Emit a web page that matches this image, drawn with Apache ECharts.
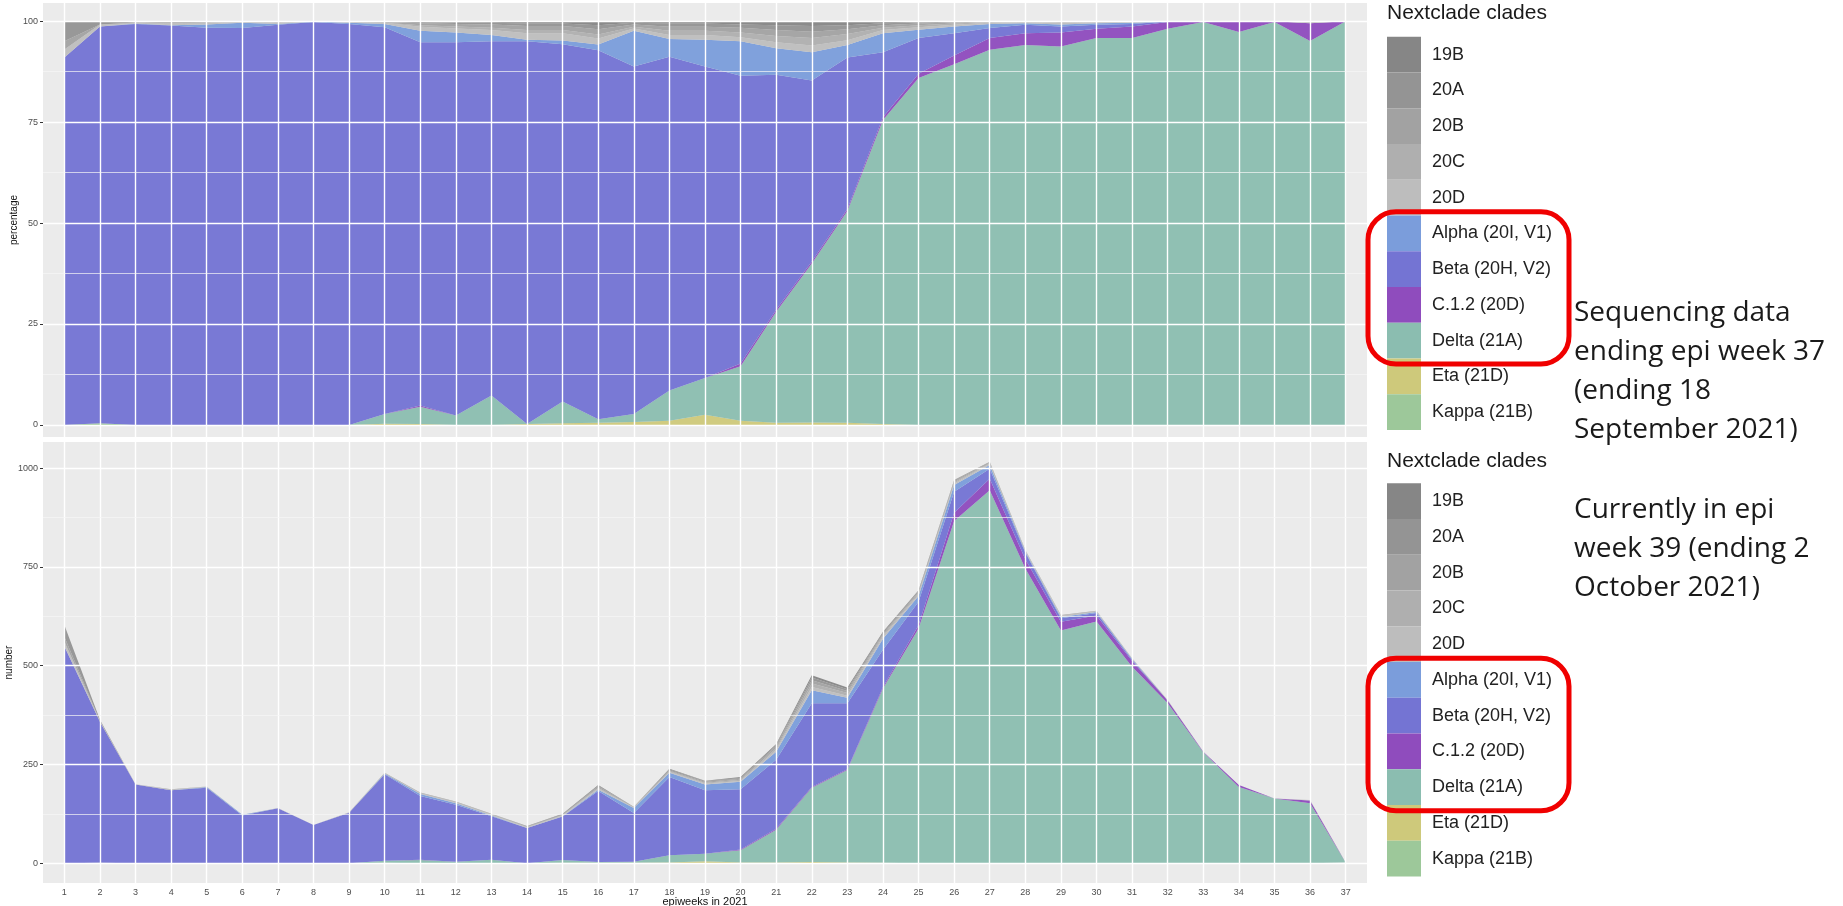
<!DOCTYPE html>
<html><head><meta charset="utf-8">
<script src="https://cdn.jsdelivr.net/npm/echarts@6/dist/echarts.min.js"></script>
<style>html,body{margin:0;padding:0;background:#fff}#c{width:1843px;height:906px}</style>
</head><body><div id="c"></div>
<script>
// ---------- data ----------
const weeks = [1,2,3,4,5,6,7,8,9,10,11,12,13,14,15,16,17,18,19,20,21,22,23,24,25,26,27,28,29,30,31,32,33,34,35,36,37];
const clades = ['19B','20A','20B','20C','20D','Alpha (20I, V1)','Beta (20H, V2)','C.1.2 (20D)','Delta (21A)','Eta (21D)','Kappa (21B)'];
const pctTicks = [0,25,50,75,100];
const cntTicks = [0,250,500,750,1000];

// percentage panel (top)
const pct19B   = [0,0,0,0,0,0,0,0,0,0.2, 0.2,0.3,0.4,0.6,0.6,1.0,0.4,0.6,0.6,0.8, 1.0,1.2,1.0,0.5,0.3,0.1,0,0,0,0, 0,0,0,0,0,0,0];
const pct20A   = [5,0.8,0.3,0,0,0,0,0,0,0, 0.3,0.4,0.4,0.6,0.6,1.0,0.4,0.8,0.8,0.8, 1.2,1.4,1.0,0.5,0.3,0.2,0,0,0,0, 0,0,0,0,0,0,0];
const pct20B   = [2,0,0,0.5,0.4,0,0.3,0,0.2,0.2, 0.5,0.6,0.8,1.0,1.0,1.3,0.6,1.0,1.0,1.2, 1.5,1.6,1.2,0.6,0.4,0.3,0.2,0.2,0.2,0.2, 0.2,0,0,0,0,0,0];
const pct20C   = [0,0,0,0,0,0,0,0,0,0, 0.4,0.5,0.6,0.8,0.8,1.0,0.4,1.0,1.0,1.2, 1.5,1.8,1.5,0.6,0.5,0.3,0.2,0,0.2,0, 0,0,0,0,0,0,0];
const pct20D   = [2,0.5,0.3,0.5,0.4,0.4,0.4,0.1,0.2,0.3, 1.0,1.0,1.2,1.6,1.8,1.5,0.6,1.0,1.2,1.0, 1.5,1.7,1.2,0.8,0.6,0.4,0.3,0.3,0.4,0.3, 0.2,0.1,0,0,0,0.5,0];
const pctAlpha = [0,0,0.1,0.1,0.8,1.3,0.2,0.1,0.3,0.8, 2.8,2.4,1.6,0.4,0.9,1.4,8.8,4.4,6.6,8.5, 6.6,7.0,3.1,4.7,2.1,1.7,1.0,0.4,0.5,0.4, 0.3,0,0,0,0,0,0];
const pctBeta  = [91.0,98.3,99.3,98.9,98.4,98.3,99.1,99.8,99.3,95.8, 90.0,92.5,87.7,94.8,88.5,91.4,86.1,82.7,77.2,71.3, 58.2,44.8,37.5,16.1,8.8,5.5,2.5,2.1,1.5,1.0, 0.6,0.1,0,0,0,0,0];
const pctC12   = [0,0,0,0,0,0,0,0,0,0, 0.3,0,0,0,0,0,0,0,0,0.7, 0.5,0.5,0.5,0.7,1.1,2.2,2.9,2.9,3.5,2.3, 2.9,1.7,0.2,2.7,0.2,4.4,0];
const pctDelta = [0,0,0,0,0,0,0,0,0,2.4, 4.3,2.3,7.3,0,5.4,0.9,2.0,7.5,9.1,13.5, 27.5,39.4,52.5,75.3,85.9,89.3,92.9,94.1,93.7,95.8, 95.8,98.1,99.8,97.3,99.8,95.1,100];
const pctEta   = [0,0,0,0,0,0,0,0,0,0.3, 0.2,0,0,0.2,0.4,0.5,0.7,1.0,2.5,1.0, 0.5,0.6,0.5,0.2,0,0,0,0,0,0, 0,0,0,0,0,0,0];
const pctKappa = [0,0.4,0,0,0,0,0,0,0,0, 0,0,0,0,0,0,0,0,0,0, 0,0,0,0,0,0,0,0,0,0, 0,0,0,0,0,0,0];

// count panel (bottom)
const cnt19B   = [0,0,0,0,0,0,0,0,0,0, 0,0,0,0,1,2,0,2,1,2, 3,6,5,3,2,1,0,0,0,0, 0,0,0,0,0,0,0];
const cnt20A   = [30,3,0,0,0,0,0,0,0,0, 0,0,0,1,1,2,0,2,2,2, 3,7,4,3,2,2,1,0,0,0, 0,0,0,0,0,0,0];
const cnt20B   = [12,0,0,1,0,0,0,0,0,1, 1,1,1,1,1,3,1,2,2,3, 5,8,5,3,3,3,2,2,1,1, 1,0,0,0,0,0,0];
const cnt20C   = [0,0,0,0,0,0,0,0,0,0, 1,1,1,1,1,2,1,2,2,3, 4,9,7,4,4,3,2,0,1,0, 0,0,0,0,0,0,0];
const cnt20D   = [12,2,1,1,1,0,1,0,1,1, 2,2,2,2,2,3,1,2,3,2, 5,8,5,5,4,4,3,2,3,2, 1,1,0,0,0,1,0];
const cntAlpha = [0,0,0,0,2,2,0,0,0,2, 5,4,2,0,1,3,13,11,14,19, 20,33,14,28,14,17,10,3,3,3, 2,0,0,0,0,0,0];
const cntBeta  = [549,357,199,185,191,121,139,97,128,219, 161,144,110,89,110,180,123,198,161,152, 175,212,167,94,60,53,25,17,9,6, 3,0,0,0,0,0,0];
const cntC12   = [0,0,0,0,0,0,0,0,0,0, 1,0,0,0,0,0,0,0,0,2, 2,2,2,4,8,21,29,23,22,15, 15,7,1,5,0,7,0];
const cntDelta = [0,0,0,0,0,0,0,0,0,5, 8,4,9,0,7,2,3,18,19,31, 83,188,234,441,594,866,944,746,589,612, 497,405,281,193,164,152,2];
const cntEta   = [0,0,0,0,0,0,0,0,0,1, 0,0,0,0,1,1,1,2,5,2, 2,3,2,1,0,0,0,0,0,0, 0,0,0,0,0,0,0];
const cntKappa = [0,1,0,0,0,0,0,0,0,0, 0,0,0,0,0,0,0,0,0,0, 0,0,0,0,0,0,0,0,0,0, 0,0,0,0,0,0,0];

// ---------- styling ----------
const cladeColor = {
  '19B':'#868686','20A':'#949494','20B':'#a2a2a2','20C':'#afafaf','20D':'#bdbdbd',
  'Alpha (20I, V1)':'#7b9ddb','Beta (20H, V2)':'#7474d3','C.1.2 (20D)':'#8f4cbd',
  'Delta (21A)':'#8bbdb0','Eta (21D)':'#cec97b','Kappa (21B)':'#9dc89a'
};
const pctData = {'19B':pct19B,'20A':pct20A,'20B':pct20B,'20C':pct20C,'20D':pct20D,'Alpha (20I, V1)':pctAlpha,'Beta (20H, V2)':pctBeta,'C.1.2 (20D)':pctC12,'Delta (21A)':pctDelta,'Eta (21D)':pctEta,'Kappa (21B)':pctKappa};
const cntData = {'19B':cnt19B,'20A':cnt20A,'20B':cnt20B,'20C':cnt20C,'20D':cnt20D,'Alpha (20I, V1)':cntAlpha,'Beta (20H, V2)':cntBeta,'C.1.2 (20D)':cntC12,'Delta (21A)':cntDelta,'Eta (21D)':cntEta,'Kappa (21B)':cntKappa};

const stackOrder = clades.slice().reverse(); // bottom of the stack first
const series = [];
function gridSeries(idx, major, minor){
  const d = [];
  weeks.forEach(w => d.push({xAxis: w}));
  major.forEach(v => d.push({yAxis: v}));
  minor.forEach(v => d.push({yAxis: v, lineStyle:{color:'#f7f7f7', width:0.7, type:'solid'}}));
  return {type:'line', xAxisIndex: idx, yAxisIndex: idx, data: [], z: 1, silent: true,
    markLine:{symbol:['none','none'], silent:true, animation:false, label:{show:false},
      emphasis:{disabled:true}, lineStyle:{color:'#ffffff', width:1.4, type:'solid'}, data: d}};
}
series.push(gridSeries(0, pctTicks, [12.5,37.5,62.5,87.5]));
series.push(gridSeries(1, cntTicks, [125,375,625,875]));
[[0, pctData, 'p'], [1, cntData, 'c']].forEach(([idx, src, st]) => {
  stackOrder.forEach(name => {
    series.push({
      name, type:'line', xAxisIndex: idx, yAxisIndex: idx, stack: st, z: 2,
      symbol:'none', showSymbol:false, smooth:false, silent:true,
      color: cladeColor[name],
      itemStyle:{color: cladeColor[name]},
      lineStyle:{width:0, color: cladeColor[name]},
      areaStyle:{color: cladeColor[name], opacity: 0.96},
      // value first so that the stack is applied to the value dimension
      encode:{x:1, y:0},
      data: weeks.map((w,i) => [src[name][i], w])
    });
  });
});

const axisFont = 'Liberation Sans';
function legendAt(top){
  return {orient:'vertical', left:1387, top, padding:0, itemGap:0, itemWidth:34, itemHeight:35.75,
    icon:'rect', selectedMode:false, data: clades,
    itemStyle:{borderWidth:0},
    textStyle:{fontSize:18, color:'#222', fontFamily:axisFont, padding:[0,0,0,6]}};
}
const plain = v => String(v);

const option = {
  animation:false,
  backgroundColor:'#ffffff',
  grid:[
    {left:43, top:3, width:1324, height:434, show:true, backgroundColor:'#ebebeb', borderWidth:0, containLabel:false, outerBoundsMode:'none'},
    {left:43, top:442, width:1324, height:441, show:true, backgroundColor:'#ebebeb', borderWidth:0, containLabel:false, outerBoundsMode:'none'}
  ],
  xAxis:[
    {type:'value', gridIndex:0, min:0.4, max:37.6, axisLine:{show:false}, axisTick:{show:false}, axisLabel:{show:false}, splitLine:{show:false}},
    {type:'value', gridIndex:1, min:0.4, max:37.6, axisLine:{show:false},
      axisTick:{show:true, customValues: weeks, length:3, lineStyle:{color:'#333', width:1}},
      axisLabel:{customValues: weeks, formatter: plain, fontSize:9, color:'#4d4d4d', fontFamily:axisFont, margin:5},
      splitLine:{show:false},
      name:'epiweeks in 2021', nameLocation:'middle', nameGap:13, nameMoveOverlap:false,
      nameTextStyle:{fontSize:11, color:'#111', fontFamily:axisFont}}
  ],
  yAxis:[
    {type:'value', gridIndex:0, min:-3, max:104.5, axisLine:{show:false},
      axisTick:{show:true, customValues: pctTicks, length:3, lineStyle:{color:'#333', width:1}},
      axisLabel:{customValues: pctTicks, formatter: plain, fontSize:9, color:'#4d4d4d', fontFamily:axisFont, margin:5},
      splitLine:{show:false},
      name:'percentage', nameLocation:'middle', nameRotate:90, nameGap:24, nameMoveOverlap:false,
      nameTextStyle:{fontSize:10, color:'#111', fontFamily:axisFont}},
    {type:'value', gridIndex:1, min:-50, max:1066, axisLine:{show:false},
      axisTick:{show:true, customValues: cntTicks, length:3, lineStyle:{color:'#333', width:1}},
      axisLabel:{customValues: cntTicks, formatter: plain, fontSize:9, color:'#4d4d4d', fontFamily:axisFont, margin:5},
      splitLine:{show:false},
      name:'number', nameLocation:'middle', nameRotate:90, nameGap:29, nameMoveOverlap:false,
      nameTextStyle:{fontSize:10, color:'#111', fontFamily:axisFont}}
  ],
  legend:[legendAt(36.7), legendAt(483.3)],
  series,
  graphic:[
    {type:'text', left:1387, top:3, z:50, style:{text:'Nextclade clades', font:'21px "Liberation Sans"', fill:'#1a1a1a'}},
    {type:'text', left:1387, top:451, z:50, style:{text:'Nextclade clades', font:'21px "Liberation Sans"', fill:'#1a1a1a'}},
    {type:'text', left:1574, top:294, z:50, style:{text:'Sequencing data\nending epi week 37\n(ending 18\nSeptember 2021)', font:'28px "Open Sans"', lineHeight:39, fill:'#1a1a1a'}},
    {type:'text', left:1574, top:491, z:50, style:{text:'Currently in epi\nweek 39 (ending 2\nOctober 2021)', font:'28px "Open Sans"', lineHeight:39, fill:'#1a1a1a'}},
    {type:'rect', z:100, shape:{x:1368, y:211.7, width:201, height:152.3, r:28}, style:{fill:'none', stroke:'#f00000', lineWidth:5}},
    {type:'rect', z:100, shape:{x:1368, y:658.3, width:201, height:152.4, r:28}, style:{fill:'none', stroke:'#f00000', lineWidth:5}}
  ]
};
const chart = echarts.init(document.getElementById('c'), null, {renderer:'canvas'});
chart.setOption(option);
</script></body></html>
